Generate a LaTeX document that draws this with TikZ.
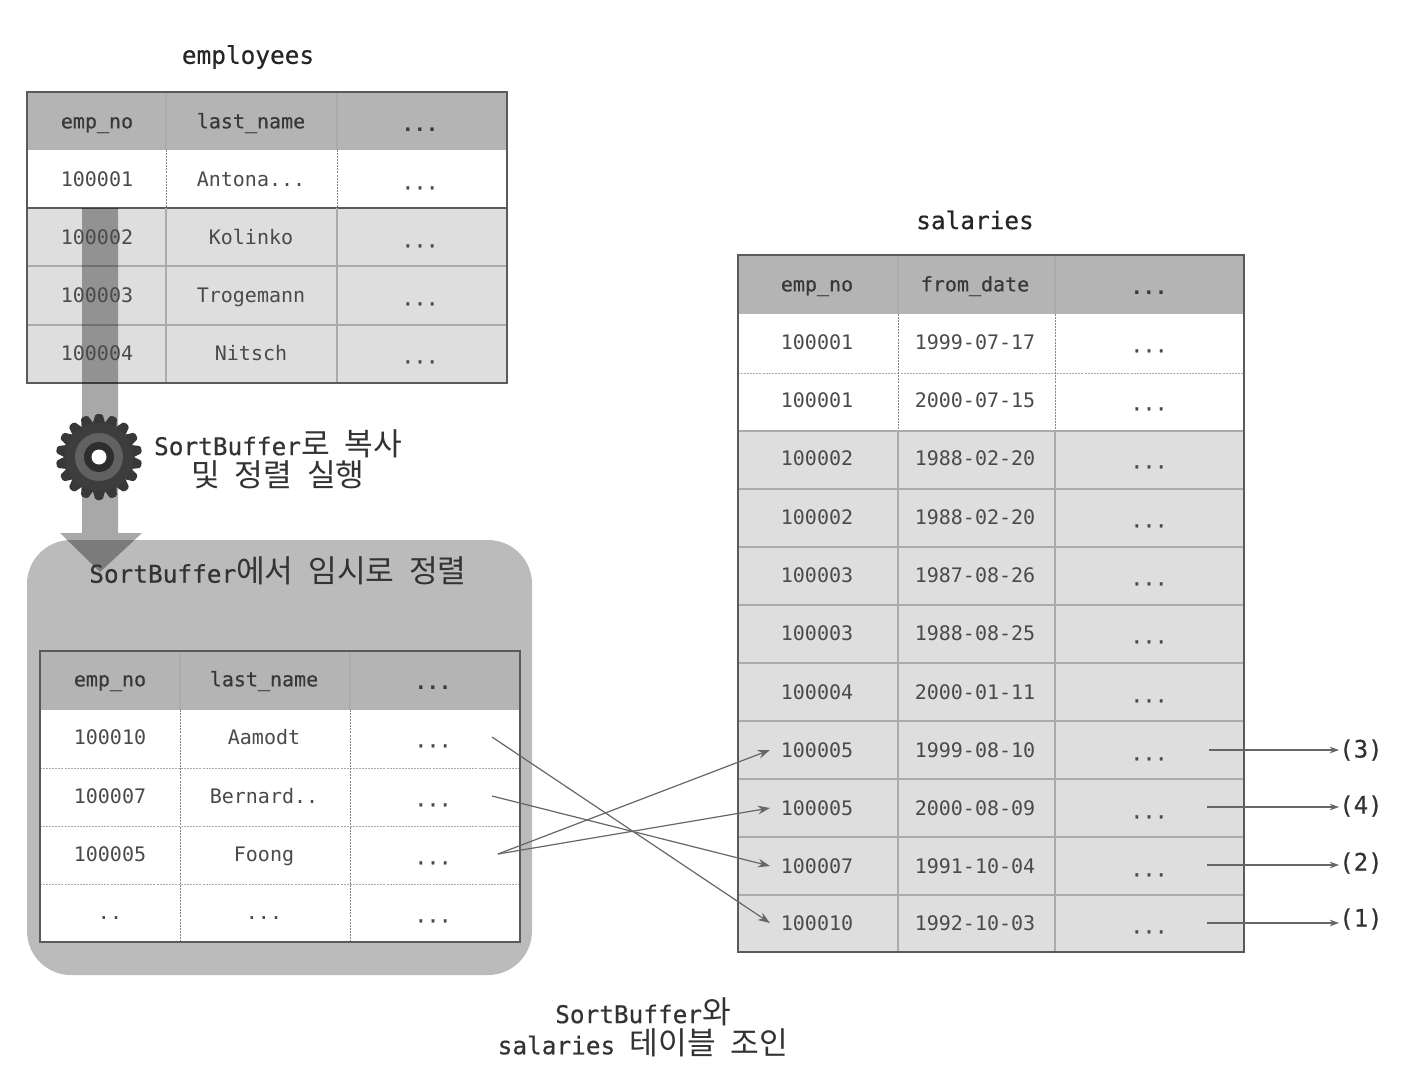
\documentclass[tikz,border=0pt]{standalone}
\usepackage{fontspec}
\setmainfont{DejaVu Sans Mono}
\newfontfamily\medfont[FakeBold=0.5]{DejaVu Sans Mono}
\newfontfamily\krfont[Scale=1.28]{Noto Sans CJK KR}
\newcommand\kr[1]{{\krfont #1}}
\newcommand\tdots{...}
\newcommand\ttwo{..}
\usetikzlibrary{arrows.meta}
\definecolor{hdr}{HTML}{B4B4B4}
\definecolor{rowgray}{HTML}{DEDEDE}
\definecolor{boxgray}{HTML}{BBBBBB}
\definecolor{gridc}{HTML}{ABABAB}
\definecolor{edgec}{HTML}{5A5A5A}
\definecolor{txt}{HTML}{4A4A4A}
\definecolor{wirec}{HTML}{666666}
\tikzset{
  x=0.75pt,y=-0.75pt,
  cell/.style={font=\fontsize{15}{15}\selectfont,text=txt,inner sep=0pt,text height=11pt,text depth=0pt,anchor=center},
  head/.style={cell,font=\fontsize{15}{15}\medfont,text=black!78},
  dotcell/.style={cell,yshift=-2.2pt,font=\fontsize{15}{15}\medfont},
  dothead/.style={head,yshift=-2.2pt,font=\fontsize{15}{15}\bfseries\selectfont},
  title/.style={font=\fontsize{18.3}{18.3}\medfont,text=black!85,inner sep=0pt},
  note/.style={font=\fontsize{18.3}{21}\medfont,text=black!80,inner sep=0pt,align=center},
  refnum/.style={font=\fontsize{18}{18}\medfont,text=black!80,inner sep=0pt,anchor=west},
  idnode/.style={cell,inner xsep=8pt},
  grid/.style={gridc,line width=0.9pt},
  gridw/.style={gridc,line width=0.7pt,dash pattern=on 1.5pt off 0.8pt},
  gridv/.style={black!48,line width=0.7pt,dash pattern=on 1.5pt off 0.8pt},
  frame/.style={edgec,line width=1.1pt},
  wire/.style={wirec,line width=0.9pt,-{Stealth[length=9pt,width=6.5pt]}},
  thin wire/.style={wirec,line width=0.8pt,-{Stealth[length=7pt,width=5pt]}},
}
\begin{document}
\begin{tikzpicture}
\useasboundingbox (0,0) rectangle (1412,1078);
% ---- employees fills
\fill[rowgray] (27,208) rectangle (507,383);
\fill[hdr] (27,92) rectangle (507,150);
% ---- sort buffer box
\fill[boxgray,rounded corners=33pt] (27,540) rectangle (532,975);
\fill[white] (40,710) rectangle (520,942);
\fill[hdr] (40,651) rectangle (520,710);
% ---- salaries fills
\fill[rowgray] (738,431) rectangle (1244,952);
\fill[hdr] (738,255) rectangle (1244,314);
% ---- employees grid
\foreach \y in {266,325} \draw[grid] (27,\y) -- (507,\y);
\draw[edgec,line width=0.9pt] (27,208) -- (507,208);
\foreach \x in {166,337} {\draw[grid] (\x,92) -- (\x,150); \draw[gridv] (\x,150) -- (\x,208); \draw[grid] (\x,208) -- (\x,383);}
\draw[frame] (27,92) rectangle (507,383);
% ---- sort grid
\foreach \y in {768,826,884} \draw[gridw] (40,\y) -- (520,\y);
\foreach \x in {180,350} {\draw[grid] (\x,651) -- (\x,710); \draw[gridv] (\x,710) -- (\x,942);}
\draw[edgec,line width=1.4pt] (40,651) rectangle (520,942);
% ---- salaries grid
\draw[gridw] (738,373) -- (1244,373);
\foreach \y in {431,489,547,605,663,721,779,837,895} \draw[grid] (738,\y) -- (1244,\y);
\foreach \x in {898,1055} {\draw[grid] (\x,255) -- (\x,314); \draw[gridv] (\x,314) -- (\x,431); \draw[grid] (\x,431) -- (\x,952);}
\draw[frame] (738,255) rectangle (1244,952);
% ---- big down arrow
\fill[black,opacity=0.34] (82,208) -- (118,208) -- (118,533) -- (142,533) -- (100,572) -- (60,533) -- (82,533) -- cycle;
% ---- gear
\coordinate (gear) at (99,457);
\foreach \a in {0,20,...,340}
  \fill[black!78,rotate around={\a:(gear)},rounded corners=1.2pt] (92,426) -- (95.5,414) -- (102.5,414) -- (106,426) -- cycle;
\fill[black!76] (gear) circle[radius=34];
\fill[black!62] (gear) circle[radius=24];
\fill[black!82] (gear) circle[radius=15];
\fill[white] (gear) circle[radius=7.5];
% ---- titles
\node[title] (t1) at (248,57) {employees};
\node[title] (t2) at (975,220) {salaries};
% ---- employees text
\node[head] (e00) at (97,121) {emp\_no};
\node[head] (e01) at (251,121) {last\_name};
\node[dothead] (e02) at (420,121) {\tdots};
\foreach \n/\y/\a/\b in {1/179/100001/Antona\tdots,2/237/100002/Kolinko,3/295/100003/Trogemann,4/353/100004/Nitsch}{
  \node[cell] (e\n0) at (97,\y) {\a};
  \node[cell] (e\n1) at (251,\y) {\b};
  \node[dotcell] (e\n2) at (420,\y) {\tdots};
}
% ---- sort text
\node[head] (s00) at (110,679) {emp\_no};
\node[head] (s01) at (264,679) {last\_name};
\node[dothead] (s02) at (433,679) {\tdots};
\foreach \n/\y/\a/\b in {1/737/100010/Aamodt,2/796/100007/Bernard\ttwo,3/854/100005/Foong,4/912/\ttwo/\tdots}{
  \node[cell] (s\n0) at (110,\y) {\a};
  \node[cell] (s\n1) at (264,\y) {\b};
  \node[dotcell] (s\n2) at (433,\y) {\tdots};
}
% ---- salaries text
\node[head] (r00) at (817,284) {emp\_no};
\node[head] (r01) at (975,284) {from\_date};
\node[dothead] (r02) at (1149,284) {\tdots};
\foreach \n/\y/\a/\b in {1/342/100001/1999-07-17,2/400/100001/2000-07-15,3/458/100002/1988-02-20,4/517/100002/1988-02-20,5/575/100003/1987-08-26,6/633/100003/1988-08-25,7/692/100004/2000-01-11,8/750/100005/1999-08-10,9/808/100005/2000-08-09,10/866/100007/1991-10-04,11/923/100010/1992-10-03}{
  \node[idnode] (r\n0) at (817,\y) {\a};
  \node[cell] (r\n1) at (975,\y) {\b};
  \node[dotcell] (r\n2) at (1149,\y) {\tdots};
}
% ---- notes
\node[note] (n1) at (278,459) {SortBuffer\kr{로} \kr{복사}\\[1.2pt]\kr{및} \kr{정렬} \kr{실행}};
\node[note] (n2) at (278,571) {SortBuffer\kr{에서} \kr{임시로} \kr{정렬}};
\node[note] (n3) at (643,1027) {SortBuffer\kr{와}\\[1.2pt]salaries \kr{테이블} \kr{조인}};
% ---- join arrows
\coordinate (a1) at (492,737);
\coordinate (a2) at (492,796);
\coordinate (a3) at (498,854);
\draw[wire] (a1) -- (r110.west);
\draw[wire] (a2) -- (r100.west);
\draw[wire] (a3) -- (r80.west);
\draw[wire] (a3) -- (r90.west);
% ---- result arrows
\node[refnum] (o3) at (1339,750) {(3)};
\node[refnum] (o4) at (1339,806) {(4)};
\node[refnum] (o2) at (1339,863) {(2)};
\node[refnum] (o1) at (1339,919) {(1)};
\coordinate (b3) at (1209,750);
\coordinate (b4) at (1207,807);
\coordinate (b2) at (1207,865);
\coordinate (b1) at (1207,923);
\draw[thin wire] (b3) -- (b3-|o3.west);
\draw[thin wire] (b4) -- (b4-|o4.west);
\draw[thin wire] (b2) -- (b2-|o2.west);
\draw[thin wire] (b1) -- (b1-|o1.west);
\end{tikzpicture}
\end{document}
